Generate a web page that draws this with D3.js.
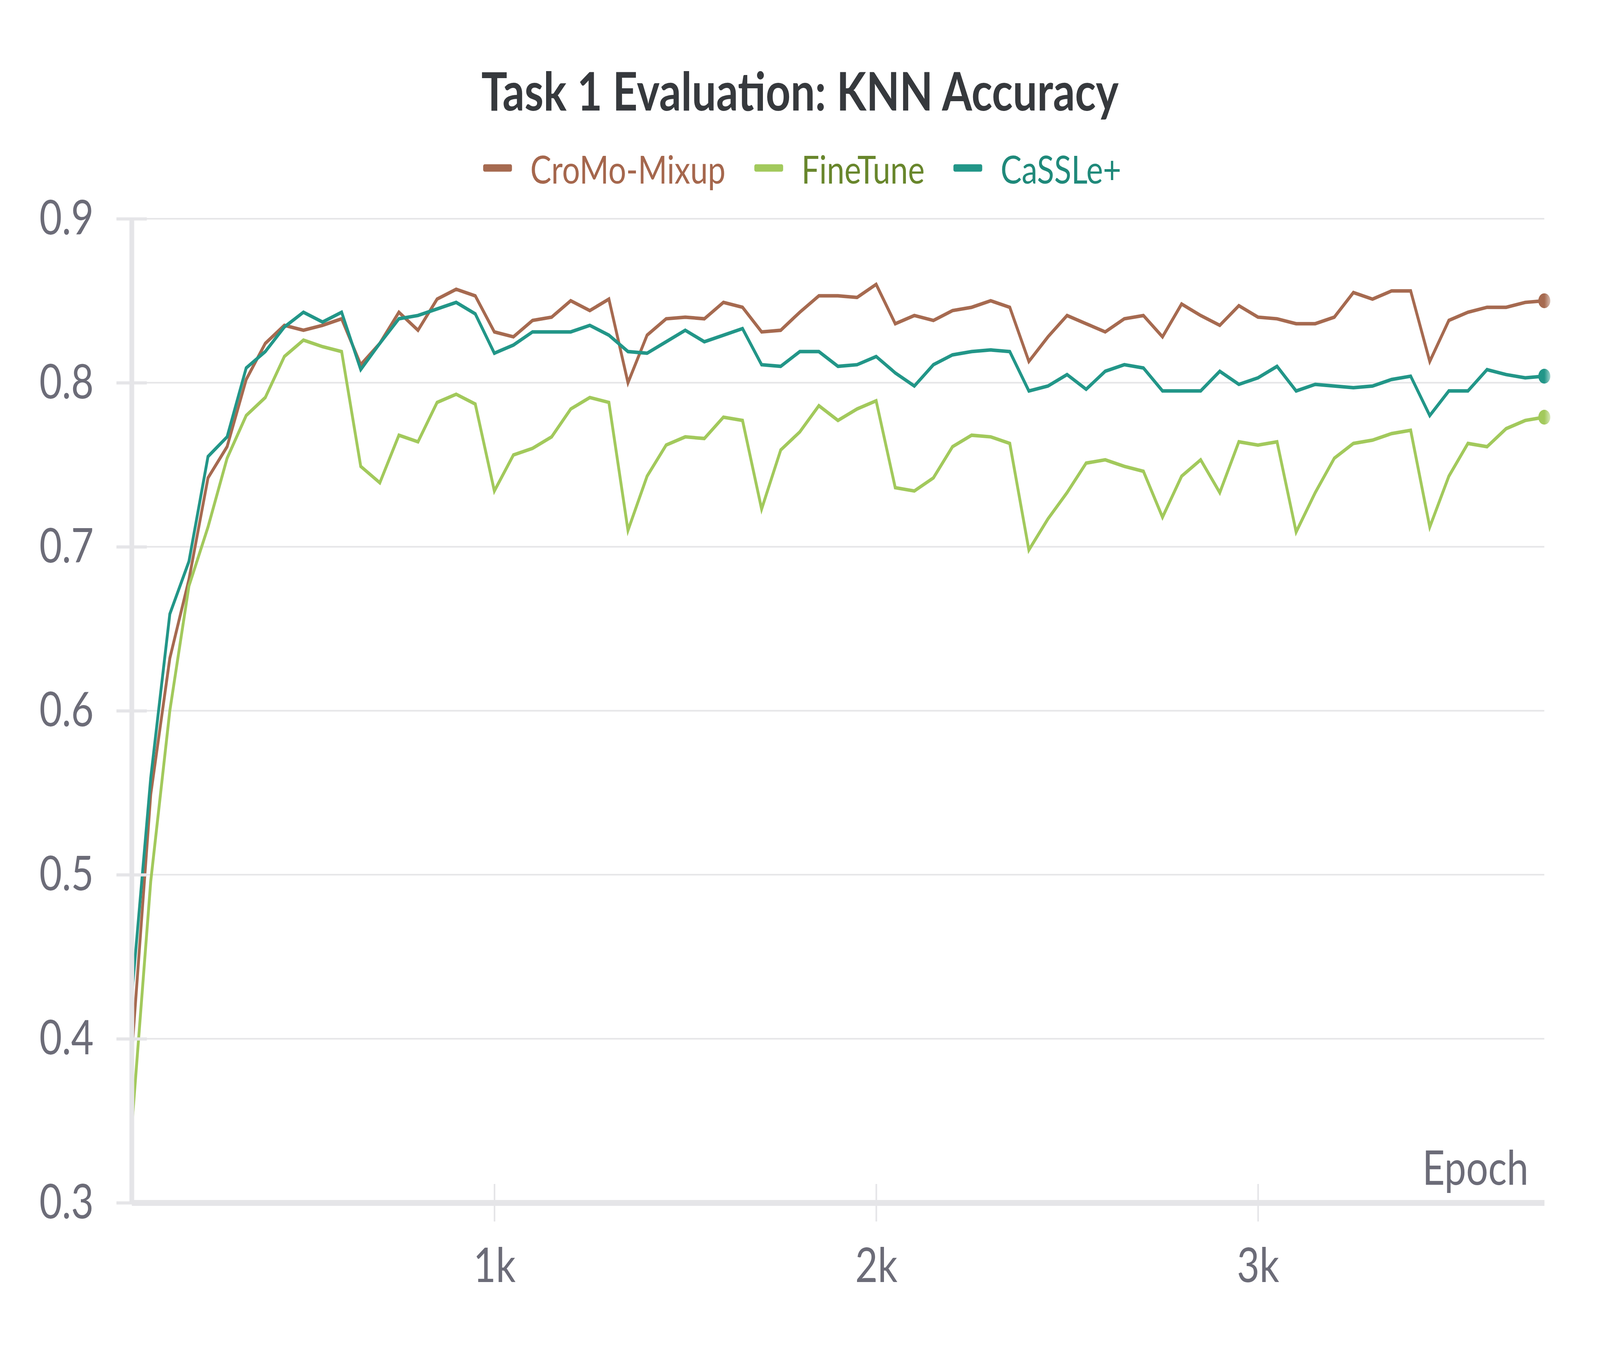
<!DOCTYPE html>
<html>
<head>
  <meta charset="utf-8">
  <title>Task 1 Evaluation: KNN Accuracy</title>
  <script src="https://cdn.jsdelivr.net/npm/d3@7"></script>
  <style>
    html, body { margin: 0; padding: 0; background: #fff; overflow: hidden; }
    #chart { display: block; width: 100vw; height: 100vh; }
    text { font-family: Lato, "Noto Sans", sans-serif; }
  </style>
</head>
<body>
  <svg id="chart"></svg>

  <script>
    // x values: evaluation every 50 epochs
    const epochs = d3.range(50, 3751, 50);

    // series (KNN accuracy)
    const cromoMixup = [
      0.390, 0.549, 0.632, 0.680, 0.742, 0.761, 0.802, 0.824, 0.835, 0.832,
      0.835, 0.839, 0.811, 0.824, 0.843, 0.832, 0.851, 0.857, 0.853, 0.831,
      0.828, 0.838, 0.840, 0.850, 0.844, 0.851, 0.800, 0.829, 0.839, 0.840,
      0.839, 0.849, 0.846, 0.831, 0.832, 0.843, 0.853, 0.853, 0.852, 0.860,
      0.836, 0.841, 0.838, 0.844, 0.846, 0.850, 0.846, 0.813, 0.828, 0.841,
      0.836, 0.831, 0.839, 0.841, 0.828, 0.848, 0.841, 0.835, 0.847, 0.840,
      0.839, 0.836, 0.836, 0.840, 0.855, 0.851, 0.856, 0.856, 0.813, 0.838,
      0.843, 0.846, 0.846, 0.849, 0.850
    ];
    const fineTune = [
      0.345, 0.496, 0.600, 0.676, 0.712, 0.754, 0.780, 0.791, 0.816, 0.826,
      0.822, 0.819, 0.749, 0.739, 0.768, 0.764, 0.788, 0.793, 0.787, 0.734,
      0.756, 0.760, 0.767, 0.784, 0.791, 0.788, 0.710, 0.743, 0.762, 0.767,
      0.766, 0.779, 0.777, 0.723, 0.759, 0.770, 0.786, 0.777, 0.784, 0.789,
      0.736, 0.734, 0.742, 0.761, 0.768, 0.767, 0.763, 0.698, 0.717, 0.733,
      0.751, 0.753, 0.749, 0.746, 0.718, 0.743, 0.753, 0.733, 0.764, 0.762,
      0.764, 0.709, 0.733, 0.754, 0.763, 0.765, 0.769, 0.771, 0.712, 0.743,
      0.763, 0.761, 0.772, 0.777, 0.779
    ];
    const cassle = [
      0.425, 0.559, 0.659, 0.691, 0.755, 0.767, 0.809, 0.819, 0.834, 0.843,
      0.837, 0.843, 0.808, 0.824, 0.839, 0.841, 0.845, 0.849, 0.842, 0.818,
      0.823, 0.831, 0.831, 0.831, 0.835, 0.829, 0.819, 0.818, 0.825, 0.832,
      0.825, 0.829, 0.833, 0.811, 0.810, 0.819, 0.819, 0.810, 0.811, 0.816,
      0.806, 0.798, 0.811, 0.817, 0.819, 0.820, 0.819, 0.795, 0.798, 0.805,
      0.796, 0.807, 0.811, 0.809, 0.795, 0.795, 0.795, 0.807, 0.799, 0.803,
      0.810, 0.795, 0.799, 0.798, 0.797, 0.798, 0.802, 0.804, 0.780, 0.795,
      0.795, 0.808, 0.805, 0.803, 0.804
    ];

    const seriesNames = ['CroMo-Mixup', 'FineTune', 'CaSSLe+'];
    const seriesValues = [cromoMixup, fineTune, cassle];
    const lineColors = ['#a66a50', '#a2c95c', '#229688'];
    const labelColors = ['#a5674d', '#68862c', '#1f897a'];

    const yTicks = [0.3, 0.4, 0.5, 0.6, 0.7, 0.8, 0.9];
    const xTicks = [1000, 2000, 3000];

    // chart is laid out in a 5056x3456 box that is stretched over the window
    const W = 5056, H = 3456;
    const margin = { top: 560, right: 176, bottom: 377, left: 416 };
    const axisColor = '#e5e5e8';
    const tickColor = '#6c6c78';
    const tickFont = 123;

    const svg = d3.select('#chart')
      .attr('viewBox', `0 0 ${W} ${H}`)
      .attr('preserveAspectRatio', 'none');

    const x = d3.scaleLinear()
      .domain([50, 3750])
      .range([margin.left, W - margin.right]);

    const y = d3.scaleLinear()
      .domain([0.3, 0.9])
      .range([H - margin.bottom, margin.top]);

    // fit a text's font size to a width measured on the picture
    function fitWidth(sel, target) {
      const w = sel.node().getComputedTextLength();
      const fs = parseFloat(sel.attr('font-size'));
      sel.attr('font-size', fs * target / w);
    }

    // title
    const title = svg.append('text')
      .attr('x', W / 2)
      .attr('y', 283)
      .attr('text-anchor', 'middle')
      .attr('font-size', 150)
      .attr('font-weight', 700)
      .attr('fill', '#36393d')
      .text('Task 1 Evaluation: KNN Accuracy');
    fitWidth(title, 2014);

    // legend
    const legend = svg.append('g');
    const swatchW = 91, swatchGap = 58, itemGap = 91;
    const legendTexts = seriesNames.map((name, i) => {
      legend.append('rect')
        .attr('class', 'swatch')
        .attr('y', 430 - 9.5)
        .attr('width', swatchW)
        .attr('height', 19)
        .attr('rx', 5)
        .attr('fill', lineColors[i]);
      return legend.append('text')
        .attr('y', 470)
        .attr('font-size', 110)
        .attr('fill', labelColors[i])
        .text(name);
    });
    fitWidth(legendTexts[0], 617);
    legendTexts.forEach(t => t.attr('font-size', legendTexts[0].attr('font-size')));
    let lx = 0;
    legend.selectAll('.swatch').each(function (d, i) {
      const t = legendTexts[i];
      d3.select(this).attr('x', lx);
      t.attr('x', lx + swatchW + swatchGap);
      lx += swatchW + swatchGap + t.node().getComputedTextLength() + itemGap;
    });
    const legendW = lx - itemGap;
    legend.attr('transform', `translate(${W / 2 - legendW / 2 + 7},0)`);

    // horizontal grid lines
    svg.append('g')
      .selectAll('line')
      .data(yTicks)
      .join('line')
      .attr('x1', x.range()[0])
      .attr('x2', x.range()[1])
      .attr('y1', d => y(d))
      .attr('y2', d => y(d))
      .attr('stroke', '#e6e6e8')
      .attr('stroke-width', 4);

    // clip for the lines
    svg.append('clipPath')
      .attr('id', 'plot-clip')
      .append('rect')
      .attr('x', x.range()[0])
      .attr('y', 0)
      .attr('width', x.range()[1] - x.range()[0])
      .attr('height', H);

    const line = d3.line()
      .x((d, i) => x(epochs[i]))
      .y(d => y(d));

    const plot = svg.append('g').attr('clip-path', 'url(#plot-clip)');
    seriesValues.forEach((vals, i) => {
      plot.append('path')
        .datum(vals)
        .attr('fill', 'none')
        .attr('stroke', lineColors[i])
        .attr('stroke-width', 9)
        .attr('stroke-linejoin', 'miter')
        .attr('d', line);
    });

    // end markers, fading on the right half
    const defs = svg.append('defs');
    lineColors.forEach((c, i) => {
      const g = defs.append('linearGradient').attr('id', 'dot-' + i);
      g.append('stop').attr('offset', '50%').attr('stop-color', c);
      g.append('stop').attr('offset', '100%').attr('stop-color', c).attr('stop-opacity', 0.45);
    });
    seriesValues.forEach((vals, i) => {
      svg.append('circle')
        .attr('cx', x(epochs[epochs.length - 1]))
        .attr('cy', y(vals[vals.length - 1]))
        .attr('r', 19)
        .attr('fill', `url(#dot-${i})`);
    });

    // y axis
    const yAxis = svg.append('g')
      .attr('transform', `translate(${margin.left},0)`)
      .call(d3.axisLeft(y)
        .tickValues(yTicks)
        .tickFormat(d3.format('.1f'))
        .tickSize(0)
        .tickPadding(120));
    yAxis.select('.domain').attr('stroke', axisColor).attr('stroke-width', 15);
    yAxis.selectAll('.tick line').remove();
    yAxis.selectAll('.tick').append('line')
      .attr('x1', -48).attr('x2', 48)
      .attr('stroke', axisColor).attr('stroke-width', 8);
    yAxis.selectAll('.tick text')
      .attr('font-size', tickFont)
      .attr('font-family', 'Lato, sans-serif')
      .attr('fill', tickColor);

    // x axis
    const xAxis = svg.append('g')
      .attr('transform', `translate(0,${H - margin.bottom})`)
      .call(d3.axisBottom(x)
        .tickValues(xTicks)
        .tickFormat(d => d / 1000 + 'k')
        .tickSizeInner(0)
        .tickSizeOuter(0)
        .tickPadding(116));
    xAxis.select('.domain').attr('stroke', axisColor).attr('stroke-width', 15);
    xAxis.selectAll('.tick line').remove();
    xAxis.selectAll('.tick').append('line')
      .attr('y1', -48).attr('y2', 48)
      .attr('stroke', axisColor).attr('stroke-width', 5);
    xAxis.selectAll('.tick text')
      .attr('font-size', tickFont)
      .attr('font-family', 'Lato, sans-serif')
      .attr('fill', tickColor);

    // x axis title
    svg.append('text')
      .attr('x', x.range()[1] - 50)
      .attr('y', H - margin.bottom - 46)
      .attr('text-anchor', 'end')
      .attr('font-size', tickFont)
      .attr('fill', tickColor)
      .text('Epoch');
  </script>
</body>
</html>
